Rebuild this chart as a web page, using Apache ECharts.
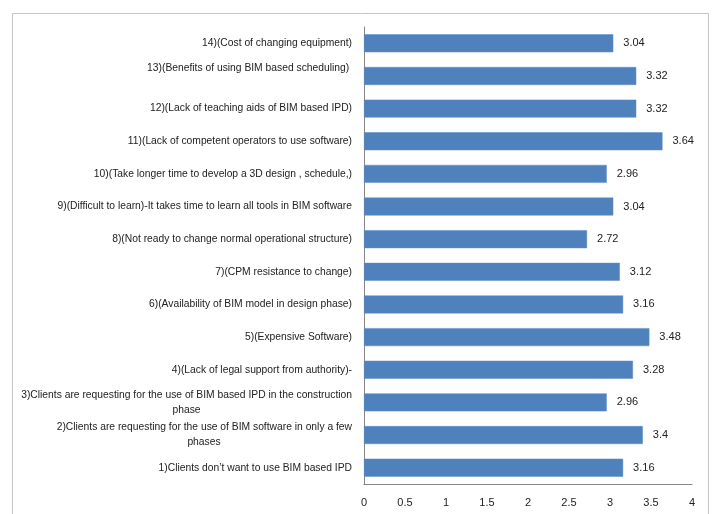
<!DOCTYPE html>
<html><head><meta charset="utf-8">
<script src="https://cdn.jsdelivr.net/npm/echarts@6/dist/echarts.min.js"></script>
<style>html,body{margin:0;padding:0;background:#fff}#c{width:716px;height:514px}</style>
</head><body><div id="c"></div>
<script>
var categories = [
  "1)Clients don\u2019t want to use BIM based IPD",
  "2)Clients are requesting for the use of BIM software in only a few\nphases",
  "3)Clients are requesting for the use of BIM based IPD in the construction\nphase",
  "4)(Lack of legal support from authority)-",
  "5)(Expensive Software)",
  "6)(Availability of BIM model in design phase)",
  "7)(CPM resistance to change)",
  "8)(Not ready to change normal operational structure)",
  "9)(Difficult to learn)-It takes time to learn all tools in BIM software",
  "10)(Take longer time to develop a 3D design , schedule,)",
  "11)(Lack of competent operators to use software)",
  "12)(Lack of teaching aids of BIM based IPD)",
  "13)(Benefits of using BIM based scheduling) ",
  "14)(Cost of changing equipment)"
];
var values = [3.16, 3.4, 2.96, 3.28, 3.48, 3.16, 3.12, 2.72, 3.04, 2.96, 3.64, 3.32, 3.32, 3.04];
var xTicks = [0, 0.5, 1, 1.5, 2, 2.5, 3, 3.5, 4];

var FONT_FAMILY = '"Liberation Sans Narrow", "Arial Narrow", sans-serif';
var CAT_SIZE = 10.3;
var NUM_SIZE = 11;
var ctx = document.createElement('canvas').getContext('2d');
ctx.font = CAT_SIZE + 'px ' + FONT_FAMILY;

var rich = {
  a: {fontFamily: FONT_FAMILY, fontSize: CAT_SIZE, color: '#222', lineHeight: 15}
};
function catFormatter(name) {
  var lines = name.split('\n');
  if (lines.length === 1) {
    if (/ $/.test(name)) return '{a|' + name + '}\n{a| }';
    return '{a|' + name + '}';
  }
  var w = Math.ceil(ctx.measureText(lines[0]).width);
  var key = 'w' + w;
  rich[key] = {fontFamily: FONT_FAMILY, fontSize: CAT_SIZE, color: '#222', lineHeight: 15, width: w, align: 'center'};
  return '{a|' + lines[0] + '}\n{' + key + '|' + lines[1] + '}';
}
categories.forEach(function (c) { catFormatter(c); });

var chart = echarts.init(document.getElementById('c'));
chart.setOption({
  animation: false,
  backgroundColor: '#fff',
  graphic: [{
    type: 'rect', shape: {x: 12.5, y: 13.5, width: 696, height: 510},
    style: {fill: 'none', stroke: '#c4c4c4', lineWidth: 1}, silent: true, z: -1
  }],
  grid: {left: 364, right: 24, top: 27, bottom: 30, containLabel: false, outerBoundsMode: 'none'},
  xAxis: {
    type: 'value', min: 0, max: 4, interval: 0.5,
    axisLine: {show: true, lineStyle: {color: '#868686'}},
    axisTick: {show: false},
    splitLine: {show: false},
    axisLabel: {
      color: '#222', fontFamily: FONT_FAMILY, fontSize: NUM_SIZE, margin: 13,
      formatter: function (v) { return xTicks.indexOf(v) >= 0 ? String(v) : ''; }
    }
  },
  yAxis: {
    type: 'category', data: categories,
    axisLine: {show: true, lineStyle: {color: '#868686'}},
    axisTick: {show: false},
    axisLabel: {
      color: '#222', fontFamily: FONT_FAMILY, fontSize: CAT_SIZE, margin: 12,
      lineHeight: 15, interval: 0,
      formatter: catFormatter,
      rich: rich
    }
  },
  series: [{
    type: 'bar', data: values, barWidth: '55%',
    itemStyle: {color: '#4F81BD', borderColor: '#5b8cc6', borderWidth: 0.5},
    label: {
      show: true, position: 'right', distance: 10,
      color: '#222', fontFamily: FONT_FAMILY, fontSize: NUM_SIZE,
      formatter: function (p) { return String(p.value); }
    }
  }]
});
</script>
</body></html>
